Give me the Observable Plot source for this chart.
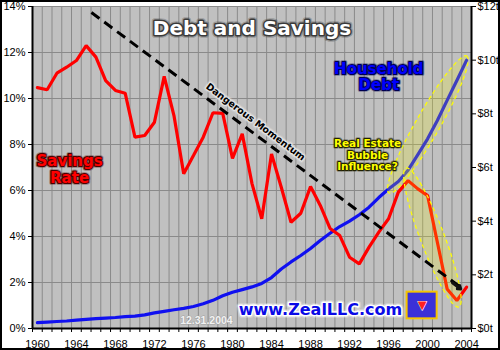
<!DOCTYPE html>
<html><head><meta charset="utf-8">
<script src="https://cdn.jsdelivr.net/npm/d3@7"></script>
<script src="https://cdn.jsdelivr.net/npm/@observablehq/plot@0.6"></script>
<style>
html,body{margin:0;padding:0;background:#fff;}
#chart svg{display:block;}
</style></head><body><div id="chart"></div>
<script>
// ---- data ----
const years = [1960,1961,1962,1963,1964,1965,1966,1967,1968,1969,1970,1971,1972,1973,1974,1975,1976,1977,1978,1979,
  1980,1981,1982,1983,1984,1985,1986,1987,1988,1989,1990,1991,1992,1993,1994,1995,1996,1997,1998,1999,2000,2001,2002,2003,2004];
const savingsRate = [10.47,10.38,11.1,11.36,11.65,12.3,11.8,10.78,10.35,10.23,8.32,8.39,8.97,10.96,9.26,6.73,7.52,8.32,9.38,9.35,
  7.4,8.46,6.3,4.77,7.59,6.14,4.62,5.01,6.17,5.35,4.35,4.04,3.1,2.81,3.54,4.19,4.77,5.93,6.43,6.07,5.78,3.75,1.72,1.22,1.8];
const householdDebt = [0.22,0.24,0.26,0.28,0.31,0.34,0.37,0.39,0.41,0.44,0.46,0.51,0.58,0.64,0.70,0.75,0.82,0.92,1.05,1.22,
  1.35,1.45,1.55,1.68,1.90,2.22,2.48,2.72,2.98,3.28,3.55,3.80,4.00,4.24,4.52,4.88,5.20,5.48,5.90,6.48,7.07,7.75,8.50,9.24,10.0];
const pctTicks = [0,2,4,6,8,10,12,14];
const debtTicks = [0,2,4,6,8,10,12];
const yearLabels = [1960,1964,1968,1972,1976,1980,1984,1988,1992,1996,2000,2004];
const titleText = ["Debt and Savings"];

// annotations (data coordinates)
const savingsLabel = [{text: "Savings\nRate", year: 1963.3, pct: 6.95}];
const debtLabel = [{text: "Household\nDebt", year: 1995.0, pct: 10.95}];
const bubbleLabel = [{text: "Real Estate\nBubble\nInfluence?", year: 1993.84, pct: 7.54}];
const momentumLabel = [{text: "Dangerous Momentum", year: 1982.36, pct: 8.98}];
const dateLabel = [{text: "12.31.2004", year: 1977.33, pct: 0.35}];
const siteLabel = [{text: "www.ZealLLC.com", year: 1989.02, pct: 0.79}];
const logoBox = [{x1: 1997.9, x2: 2000.98, y1: 0.42, y2: 1.58}];
const momentumLine = [{x1: 1965.54, y1: 13.74, x2: 2003.2, y2: 1.85}];
const momentumHead = [{x1: 2002.55, y1: 1.99, x2: 2003.4, y2: 1.72}];
const ellipses = [
  {ax: 1996.08, ay: 5.87, bx: 2004.08, by: 11.83, r: 12},
  {ax: 1997.83, ay: 6.96, bx: 2003.26, by: 0.91, r: 12}
];

// ---- derived ----
const debtToPct = 14 / 12;
const rows = years.map((year, i) => ({year, rate: savingsRate[i], debt: householdDebt[i] * debtToPct}));
const gridYears = years.slice(0, -1).map(y => y + 0.5);
const tickYears = [years[0] - 0.5, ...years.map(y => y + 0.5)];
const xDomain = [years[0] - 0.5, years[years.length - 1] + 0.5];

function outlined(data, opts, halo, w) {
  return [
    Plot.text(data, {...opts, stroke: halo, strokeWidth: w * 1.9, strokeOpacity: 0.3, fill: halo}),
    Plot.text(data, {...opts, stroke: halo, strokeWidth: w})
  ];
}
const deco = "DejaVu Sans, Verdana, sans-serif";

const chart = Plot.plot({
  width: 500, height: 350,
  marginLeft: 32, marginRight: 29, marginTop: 6, marginBottom: 22,
  style: {background: "white", fontFamily: "Liberation Sans, Arial, sans-serif", fontSize: "11px", color: "black"},
  x: {domain: xDomain, label: null, axis: null},
  y: {domain: [0, 14], label: null, axis: null},
  marks: [
    Plot.frame({fill: "#c0c0c0", stroke: "none"}),
    Plot.gridX({ticks: gridYears, stroke: "#8a8a8a", strokeOpacity: 1}),
    Plot.gridY({ticks: pctTicks, stroke: "#8a8a8a", strokeOpacity: 1}),
    Plot.axisY({ticks: pctTicks, tickFormat: d => d + "%", anchor: "left", tickSize: 4, tickPadding: 3, label: null, fontSize: 11}),
    Plot.axisY({ticks: debtTicks.map(d => d * debtToPct), tickFormat: d => "$" + Math.round(d / debtToPct) + "t", anchor: "right", tickSize: 4, tickPadding: 2, label: null, fontSize: 11}),
    Plot.axisX({ticks: tickYears, tickFormat: () => "", tickSize: 4, label: null}),
    Plot.axisX({ticks: yearLabels, tickFormat: d => String(d), tickSize: 0, tickPadding: 12, label: null, fontSize: 11}),
    Plot.ruleX([xDomain[0], xDomain[1]], {stroke: "black", strokeWidth: 2}),
    Plot.ruleY([0], {stroke: "black", strokeWidth: 2}),
    Plot.line(rows, {x: "year", y: "debt", stroke: "#1010f0", strokeWidth: 3.2}),
    Plot.line(rows, {x: "year", y: "rate", stroke: "#ff0000", strokeWidth: 3.2, strokeLinejoin: "miter"}),
    Plot.link(momentumLine, {x1: "x1", y1: "y1", x2: "x2", y2: "y2", stroke: "black", strokeWidth: 3, strokeDasharray: "10,6"}),
    Plot.arrow(momentumHead, {x1: "x1", y1: "y1", x2: "x2", y2: "y2", stroke: "#111", strokeWidth: 3, headLength: 11, headAngle: 70}),
    ...outlined(titleText, {frameAnchor: "top", dy: 14, fill: "white", fontSize: 20, fontWeight: "bold", fontFamily: deco}, "#3a3a3a", 3),
    ...outlined(savingsLabel, {x: "year", y: "pct", text: "text", fill: "#ff0000", fontSize: 15, fontWeight: "bold", fontFamily: deco, lineHeight: 1.15}, "#4a0000", 2.2),
    ...outlined(debtLabel, {x: "year", y: "pct", text: "text", fill: "#0000ff", fontSize: 15, fontWeight: "bold", fontFamily: deco, lineHeight: 1.12}, "#000050", 2.2),
    ...outlined(bubbleLabel, {x: "year", y: "pct", text: "text", fill: "#ffff00", fontSize: 10.5, fontWeight: "bold", fontFamily: deco, lineHeight: 1.08}, "#202000", 2),
    ...outlined(momentumLabel, {x: "year", y: "pct", text: "text", fill: "black", fontSize: 9.5, fontWeight: "bold", fontFamily: deco, rotate: 37}, "#e4e4e4", 2.5),
    Plot.text(dateLabel, {x: "year", y: "pct", text: "text", fill: "#f2f2f2", fontSize: 10.5, fontWeight: "bold", stroke: "#a0a0a0", strokeWidth: 1}),
    ...outlined(siteLabel, {x: "year", y: "pct", text: "text", fill: "#0a0ae6", fontSize: 16, fontWeight: "bold", fontFamily: deco}, "white", 3),
    Plot.rect(logoBox, {x1: "x1", x2: "x2", y1: "y1", y2: "y2", fill: "#3b30d8", stroke: "#f5c400", strokeWidth: 2}),
    Plot.text(logoBox, {x: d => (d.x1 + d.x2) / 2, y: d => (d.y1 + d.y2) / 2, text: () => "▼", fill: "#ff2020", fontSize: 15, stroke: "white", strokeWidth: 1})
  ]
});

// ellipse annotations placed through the plot's own scales
const sx = chart.scale("x"), sy = chart.scale("y");
const fx = d3.scaleLinear(sx.domain, sx.range), fy = d3.scaleLinear(sy.domain, sy.range);
const lines = chart.querySelectorAll('[aria-label="line"]');
const anchor = lines[lines.length - 1];
const g = document.createElementNS("http://www.w3.org/2000/svg", "g");
anchor.parentNode.insertBefore(g, anchor.nextSibling);
for (const e of ellipses) {
  const ax = fx(e.ax), ay = fy(e.ay), bx = fx(e.bx), by = fy(e.by);
  const cx = (ax + bx) / 2, cy = (ay + by) / 2;
  const rx = Math.hypot(bx - ax, by - ay) / 2;
  const ang = Math.atan2(by - ay, bx - ax) * 180 / Math.PI;
  d3.select(g).append("ellipse")
    .attr("cx", cx).attr("cy", cy).attr("rx", rx).attr("ry", e.r)
    .attr("transform", `rotate(${ang},${cx},${cy})`)
    .attr("fill", "#ffff00").attr("fill-opacity", 0.2)
    .attr("stroke", "#ffff00").attr("stroke-width", 1.2).attr("stroke-dasharray", "4,3");
}
chart.style.outline = "2px solid black";
chart.style.outlineOffset = "-2px";
document.getElementById("chart").appendChild(chart);
</script></body></html>
